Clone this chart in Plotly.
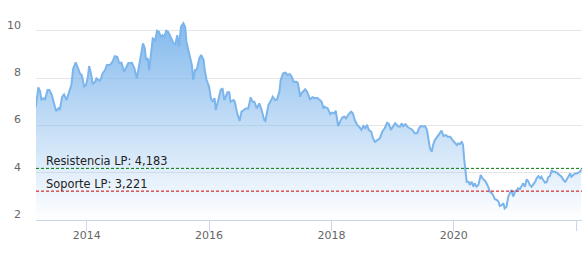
import plotly.graph_objects as go

years = [2013.17, 2013.21, 2013.24, 2013.26, 2013.29, 2013.32, 2013.36, 2013.39, 2013.43, 2013.47,
         2013.50, 2013.54, 2013.56, 2013.60, 2013.63, 2013.67, 2013.72, 2013.75, 2013.78, 2013.82,
         2013.85, 2013.89, 2013.92, 2013.96, 2013.99, 2014.02, 2014.04, 2014.07, 2014.10, 2014.14,
         2014.16, 2014.21, 2014.23, 2014.26, 2014.30, 2014.33, 2014.38, 2014.42, 2014.46, 2014.50,
         2014.53, 2014.57, 2014.61, 2014.65, 2014.68, 2014.74, 2014.78, 2014.82, 2014.85, 2014.90,
         2014.92, 2014.95, 2014.97, 2015.00, 2015.02, 2015.05, 2015.08, 2015.12, 2015.15, 2015.18,
         2015.21, 2015.24, 2015.27, 2015.30, 2015.33, 2015.37, 2015.42, 2015.45, 2015.48, 2015.51,
         2015.54, 2015.58, 2015.61, 2015.63, 2015.66, 2015.69, 2015.72, 2015.74, 2015.77, 2015.80,
         2015.84, 2015.87, 2015.91, 2015.93, 2015.96, 2016.00, 2016.03, 2016.06, 2016.09, 2016.11,
         2016.15, 2016.19, 2016.22, 2016.25, 2016.30, 2016.33, 2016.35, 2016.40, 2016.42, 2016.46,
         2016.50, 2016.53, 2016.57, 2016.60, 2016.64, 2016.68, 2016.71, 2016.74, 2016.78, 2016.82,
         2016.86, 2016.90, 2016.92, 2016.97, 2017.01, 2017.04, 2017.08, 2017.11, 2017.15, 2017.17,
         2017.21, 2017.25, 2017.28, 2017.32, 2017.35, 2017.38, 2017.42, 2017.45, 2017.49, 2017.51,
         2017.57, 2017.60, 2017.65, 2017.69, 2017.73, 2017.77, 2017.81, 2017.84, 2017.87, 2017.89,
         2017.94, 2017.98, 2018.01, 2018.05, 2018.07, 2018.11, 2018.14, 2018.18, 2018.21, 2018.24,
         2018.27, 2018.32, 2018.35, 2018.38, 2018.42, 2018.45, 2018.49, 2018.52, 2018.55, 2018.58,
         2018.61, 2018.65, 2018.68, 2018.71, 2018.75, 2018.79, 2018.83, 2018.87, 2018.91, 2018.94,
         2018.97, 2019.01, 2019.04, 2019.07, 2019.09, 2019.12, 2019.15, 2019.17, 2019.21, 2019.25,
         2019.28, 2019.32, 2019.36, 2019.40, 2019.43, 2019.46, 2019.50, 2019.53, 2019.56, 2019.58,
         2019.61, 2019.64, 2019.66, 2019.69, 2019.73, 2019.76, 2019.80, 2019.83, 2019.87, 2019.90,
         2019.94, 2019.97, 2020.01, 2020.05, 2020.07, 2020.10, 2020.13, 2020.15, 2020.17, 2020.19,
         2020.21, 2020.24, 2020.26, 2020.29, 2020.32, 2020.34, 2020.37, 2020.40, 2020.44, 2020.47,
         2020.50, 2020.52, 2020.56, 2020.59, 2020.62, 2020.64, 2020.67, 2020.70, 2020.73, 2020.75,
         2020.78, 2020.81, 2020.83, 2020.86, 2020.89, 2020.92, 2020.94, 2020.97, 2021.00, 2021.03,
         2021.05, 2021.08, 2021.11, 2021.13, 2021.16, 2021.19, 2021.22, 2021.24, 2021.27, 2021.30,
         2021.33, 2021.35, 2021.38, 2021.41, 2021.43, 2021.46, 2021.49, 2021.52, 2021.54, 2021.57,
         2021.60, 2021.62, 2021.65, 2021.68, 2021.71, 2021.73, 2021.76, 2021.79, 2021.82, 2021.84,
         2021.87, 2021.90, 2021.92, 2021.95, 2021.98, 2022.01, 2022.03, 2022.06, 2022.08]

prices = [6.79, 7.61, 7.43, 7.07, 7.15, 7.10, 7.50, 7.50, 7.29, 6.86,
          6.61, 6.72, 6.65, 7.21, 7.31, 7.07, 7.50, 7.71, 8.41, 8.67,
          8.48, 8.20, 8.13, 7.64, 7.71, 8.06, 8.51, 8.20, 7.75, 7.85,
          7.99, 7.89, 7.95, 8.20, 8.34, 8.55, 8.55, 8.69, 8.93, 8.90,
          8.65, 8.65, 8.27, 8.48, 8.63, 8.65, 8.41, 7.99, 8.41, 9.05,
          9.47, 9.26, 8.77, 8.84, 8.34, 8.98, 9.68, 9.61, 10.00, 9.96,
          9.75, 9.82, 9.75, 10.00, 9.96, 9.75, 9.47, 9.43, 9.82, 9.33,
          10.17, 10.32, 10.17, 9.54, 9.19, 8.90, 8.55, 7.92, 8.34, 8.37,
          8.84, 8.98, 8.77, 8.34, 7.92, 7.64, 7.15, 7.00, 7.15, 6.65,
          7.15, 7.50, 7.57, 7.07, 7.40, 7.40, 7.00, 7.07, 7.00, 6.51,
          6.19, 6.58, 6.65, 6.72, 6.72, 7.19, 7.00, 7.00, 6.72, 6.93,
          6.65, 6.23, 6.19, 6.86, 7.04, 7.21, 7.07, 7.10, 7.43, 7.92,
          8.20, 8.23, 8.13, 8.17, 8.06, 7.85, 7.85, 7.81, 7.21, 7.36,
          7.53, 7.43, 7.10, 7.19, 7.15, 7.17, 7.07, 7.00, 6.72, 6.79,
          6.72, 6.48, 6.54, 6.51, 6.62, 5.97, 6.16, 6.34, 6.37, 6.30,
          6.44, 6.58, 6.51, 6.23, 6.02, 5.95, 5.81, 5.97, 5.88, 6.02,
          5.81, 5.73, 5.45, 5.31, 5.38, 5.45, 5.73, 5.88, 6.11, 6.05,
          5.81, 5.95, 6.09, 6.02, 5.95, 5.95, 6.09, 5.97, 6.05, 5.92,
          5.88, 5.82, 5.67, 5.67, 5.88, 5.97, 5.95, 5.97, 5.81, 5.45,
          5.03, 4.89, 5.17, 5.38, 5.52, 5.59, 5.78, 5.55, 5.59, 5.52,
          5.52, 5.41, 5.31, 5.17, 5.24, 5.21, 5.31, 5.17, 4.54, 3.90,
          3.62, 3.62, 3.48, 3.62, 3.41, 3.55, 3.41, 3.48, 3.90, 3.76,
          3.66, 3.62, 3.41, 3.20, 3.13, 3.06, 2.88, 2.85, 2.77, 2.60,
          2.63, 2.71, 2.49, 2.56, 2.99, 3.20, 3.27, 2.99, 3.20, 3.27,
          3.34, 3.30, 3.48, 3.55, 3.41, 3.72, 3.62, 3.48, 3.41, 3.52,
          3.62, 3.76, 3.86, 3.76, 3.83, 3.69, 3.58, 3.62, 3.80, 3.86,
          4.11, 4.04, 4.04, 4.00, 3.95, 3.90, 3.83, 3.69, 3.62, 3.69,
          3.83, 3.97, 3.83, 3.90, 3.97, 3.97, 4.00, 4.04, 4.14]

level_names = ["Resistencia LP", "Soporte LP"]
level_values = [4.183, 3.221]
level_colors = ["#007a00", "#cc0000"]

x_tick_vals = [2014, 2016, 2018, 2020, 2022]
x_tick_text = ["2014", "2016", "2018", "2020", "2022"]
y_tick_vals = [2, 4, 6, 8, 10]

fig = go.Figure()
fig.add_trace(go.Scatter(
    x=years, y=prices, mode="lines",
    line=dict(color="#7cb5ec", width=2),
    fill="tozeroy",
    fillgradient=dict(type="vertical", start=2, stop=10.88,
                      colorscale=[[0, "rgba(124,181,236,0)"], [1, "rgba(124,181,236,1)"]]),
    hoverinfo="skip", showlegend=False,
))

for name, val, col in zip(level_names, level_values, level_colors):
    fig.add_shape(type="line", xref="paper", x0=0, x1=1, yref="y", y0=val, y1=val,
                  line=dict(color=col, width=1, dash="3px,2px"))
    fig.add_annotation(xref="paper", x=0.0145, yref="y", y=val, yshift=7,
                       text=f"{name}: " + f"{val:.3f}".replace(".", ","),
                       showarrow=False, xanchor="left", yanchor="middle",
                       font=dict(family="DejaVu Sans", size=11.4, color="#222222"))

fig.update_layout(
    width=588, height=253,
    margin=dict(l=36, r=6, t=10, b=33),
    paper_bgcolor="white", plot_bgcolor="white",
    font=dict(family="DejaVu Sans", size=11, color="#666666"),
    xaxis=dict(range=[2013.172, 2022.094], tickvals=x_tick_vals, ticktext=x_tick_text,
               showgrid=False, zeroline=False, showline=True, linecolor="#ccd6eb", linewidth=1,
               ticks="outside", ticklen=10, tickcolor="#ccd6eb", tickwidth=1,
               ticklabelstandoff=-5),
    yaxis=dict(range=[2, 10.88], tickvals=y_tick_vals, showgrid=True, gridcolor="#e6e6e6",
               gridwidth=1, zeroline=False, ticks="", ticklabelstandoff=14, ticklabelshift=-6),
)

fig.write_html("out.html")
